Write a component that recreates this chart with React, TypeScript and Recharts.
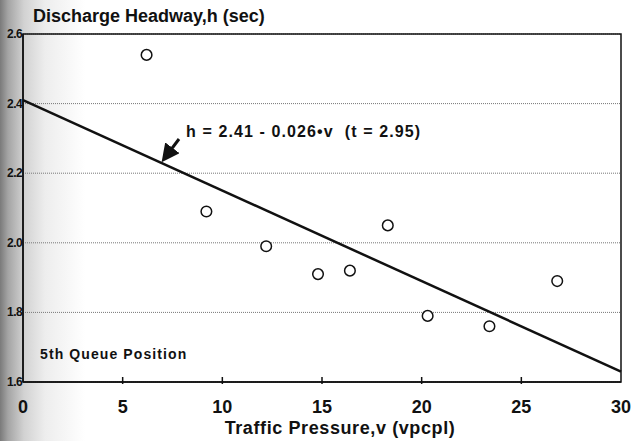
import { ComposedChart, Scatter, Line, XAxis, YAxis, CartesianGrid, ReferenceArea } from 'recharts';

const pressure = [6.2, 9.2, 12.2, 14.8, 16.4, 18.3, 20.3, 23.4, 26.8];
const headway = [2.54, 2.09, 1.99, 1.91, 1.92, 2.05, 1.79, 1.76, 1.89];
const lineEnds = [0, 30];
const intercept = 2.41;
const slope = -0.026;
const xTicks = [0, 5, 10, 15, 20, 25, 30];
const yTicks = [1.6, 1.8, 2.0, 2.2, 2.4, 2.6];

const points = pressure.map((x, i) => ({ x, h: headway[i] }));
const fitLine = lineEnds.map((x) => ({ x, h: +(intercept + slope * x).toFixed(3) }));

const FONT = '"Liberation Sans", Arial, sans-serif';

function XTick(props: any) {
  const { x, y, payload } = props;
  const v = payload.value;
  return (
    <g>
      {v > 0 && v < 30 && <line x1={x} y1={y} x2={x} y2={y - 7} stroke="#111" strokeWidth={1.5} />}
      <text x={x} y={y + 29} textAnchor="middle" fontFamily={FONT} fontWeight="bold" fontSize={18} fill="#111">
        {v}
      </text>
    </g>
  );
}

function YTick(props: any) {
  const { x, y, payload } = props;
  return (
    <text x={x} y={y + 4} textAnchor="end" fontFamily={FONT} fontWeight="bold" fontSize={12} letterSpacing={-0.6} fill="#111">
      {payload.value.toFixed(1)}
    </text>
  );
}

const Ring = (props: any) => (
  <circle cx={props.cx} cy={props.cy} r={5.3} fill="#fff" stroke="#111" strokeWidth={1.5} />
);

export default function App() {
  return (
    <div
      style={{
        position: 'absolute',
        left: 0,
        top: 0,
        width: 634,
        height: 441,
        fontFamily: FONT,
        color: '#111',
        background: 'linear-gradient(90deg, #7a7a7a 0px, #a4a4a4 8px, #d2d2d2 24px, #ededed 45px, #fff 85px)',
      }}
    >
      <ComposedChart width={634} height={441} margin={{ top: 34, right: 13, bottom: 0, left: 0 }}>
        <CartesianGrid vertical={false} stroke="#777" strokeDasharray="1 1" />
        <XAxis
          dataKey="x"
          type="number"
          domain={[0, 30]}
          ticks={xTicks}
          height={59}
          tickLine={false}
          tickSize={0}
          tick={<XTick />}
          axisLine={{ stroke: '#111', strokeWidth: 1.5 }}
        />
        <YAxis
          dataKey="h"
          type="number"
          domain={[1.6, 2.6]}
          ticks={yTicks}
          width={23}
          tickLine={false}
          tickSize={0}
          tickMargin={1}
          tick={<YTick />}
          axisLine={{ stroke: '#111', strokeWidth: 1.5 }}
        />
        <ReferenceArea x1={0} x2={30} y1={1.6} y2={2.6} fill="none" stroke="#111" strokeWidth={1.5} />
        <Line data={fitLine} dataKey="h" stroke="#111" strokeWidth={2.5} dot={false} isAnimationActive={false} />
        <Scatter data={points} dataKey="h" shape={<Ring />} isAnimationActive={false} />
      </ComposedChart>

      <div style={{ position: 'absolute', left: 33, top: 6, fontSize: 18, fontWeight: 'bold' }}>
        Discharge Headway,h (sec)
      </div>
      <div style={{ position: 'absolute', left: 186, top: 123, fontSize: 16, fontWeight: 'bold', letterSpacing: 1.1, whiteSpace: 'pre' }}>
        {'h = 2.41 - 0.026\u2022v  (t = 2.95)'}
      </div>
      <svg style={{ position: 'absolute', left: 0, top: 0 }} width={634} height={441}>
        <defs>
          <marker id="head" markerWidth="6" markerHeight="6" refX="3" refY="3" orient="auto">
            <path d="M0,0 L6,3 L0,6 Z" fill="#111" />
          </marker>
        </defs>
        <line x1={179} y1={139} x2={167} y2={155} stroke="#111" strokeWidth={3} markerEnd="url(#head)" />
      </svg>
      <div style={{ position: 'absolute', left: 40, top: 346, fontSize: 14, fontWeight: 'bold', letterSpacing: 1.1 }}>
        5th Queue Position
      </div>
      <div style={{ position: 'absolute', left: 0, width: 680, top: 418, textAlign: 'center', fontSize: 18, fontWeight: 'bold', letterSpacing: 0.6 }}>
        Traffic Pressure,v (vpcpl)
      </div>
    </div>
  );
}
